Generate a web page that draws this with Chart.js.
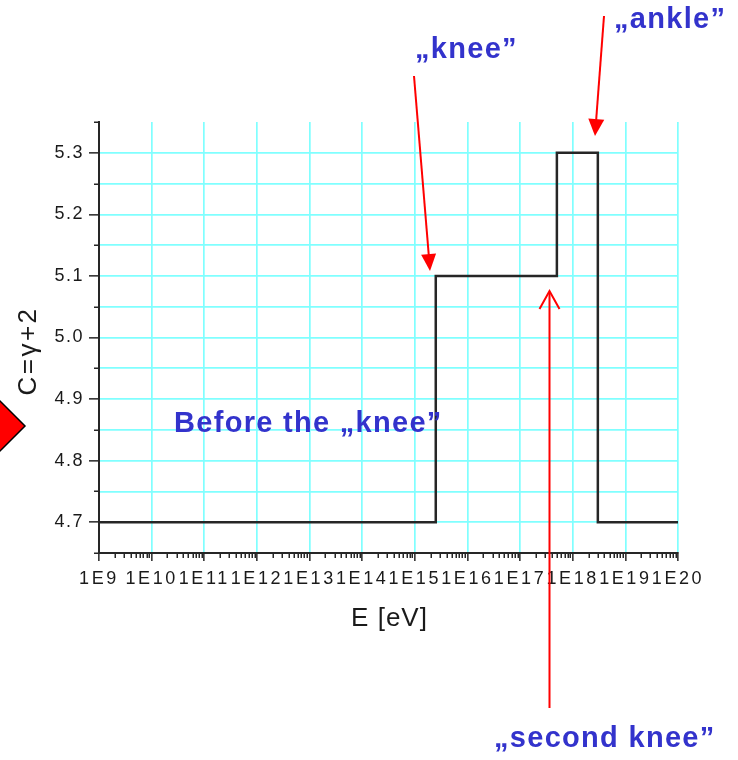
<!DOCTYPE html>
<html>
<head>
<meta charset="utf-8">
<title>C = γ + 2 versus energy</title>
<script src="https://cdn.jsdelivr.net/npm/chart.js@4.4.1/dist/chart.umd.min.js"></script>
<style>
  html, body { margin: 0; padding: 0; background: #ffffff; }
  #wrap { width: 738px; height: 760px; position: relative; }
</style>
</head>
<body>
<div id="wrap"><canvas id="chart" width="738" height="760"></canvas></div>
<script>
// Break points of the spectral index step function (energy in eV)
const energyEdges = [1e9, 2.5e15, 5e17, 3e18, 1e20];
// C = γ + 2 from each break point up to the next one
const cValues = [4.7, 5.1, 5.3, 4.7, 4.7];

// Decades shown on the energy axis and their labels
const decadeExponents = [9, 10, 11, 12, 13, 14, 15, 16, 17, 18, 19, 20];
const decadeLabels = ['1E9', '1E10', '1E11', '1E12', '1E13', '1E14', '1E15', '1E16', '1E17', '1E18', '1E19', '1E20'];

// Labelled values on the C axis
const cTicks = [4.7, 4.8, 4.9, 5.0, 5.1, 5.2, 5.3];
const cTickLabels = ['4.7', '4.8', '4.9', '5.0', '5.1', '5.2', '5.3'];

// Annotation texts
const annotations = {
  knee: '„knee”',
  ankle: '„ankle”',
  before: 'Before the „knee”',
  secondKnee: '„second knee”'
};

const AXIS_COLOR = '#262626';
const GRID_COLOR = '#80ffff';
const NOTE_COLOR = '#3333cc';
const ARROW_COLOR = '#ff0000';
const FONT = '"Liberation Sans", Arial, Helvetica, sans-serif';

// x ticks: every decade (major) plus 2..9 × 10^n (minor)
function buildEnergyTicks() {
  const t = [];
  decadeExponents.forEach((n, i) => {
    t.push({ value: Math.pow(10, n), major: true, label: decadeLabels[i] });
    if (i < decadeExponents.length - 1) {
      for (let k = 2; k <= 9; k++) t.push({ value: k * Math.pow(10, n), major: false });
    }
  });
  return t;
}

// y ticks: labelled values plus half steps in between and at both ends
function buildCTicks() {
  const t = [];
  const half = (cTicks[1] - cTicks[0]) / 2;
  t.push({ value: cTicks[0] - half, major: false });
  cTicks.forEach((v, i) => {
    t.push({ value: v, major: true, label: cTickLabels[i] });
    t.push({ value: v + half, major: false });
  });
  return t;
}

// draw a scale's tick labels with a given letter spacing
function spaceLabels(scale, spacing) {
  if (scale._spacedLabels) return;
  const orig = scale.drawLabels.bind(scale);
  scale.drawLabels = function (area) {
    const ctx = this.ctx;
    ctx.save();
    ctx.letterSpacing = spacing;
    orig(area);
    ctx.restore();
  };
  scale._spacedLabels = true;
}

function drawArrowHead(ctx, x0, y0, x1, y1, len, halfW, filled) {
  const a = Math.atan2(y1 - y0, x1 - x0);
  const bx = x1 - len * Math.cos(a), by = y1 - len * Math.sin(a);
  const px = -Math.sin(a) * halfW, py = Math.cos(a) * halfW;
  ctx.beginPath();
  ctx.moveTo(bx + px, by + py);
  ctx.lineTo(x1, y1);
  ctx.lineTo(bx - px, by - py);
  if (filled) { ctx.closePath(); ctx.fill(); } else { ctx.stroke(); }
}

const decorations = {
  id: 'decorations',
  afterDraw(chart) {
    const ctx = chart.ctx;
    const xs = chart.scales.x, ys = chart.scales.y;
    const area = chart.chartArea;
    ctx.save();

    // minor tick marks
    ctx.strokeStyle = AXIS_COLOR;
    ctx.lineWidth = 1.5;
    ctx.beginPath();
    xs.ticks.forEach(t => {
      if (t.major) return;
      const px = Math.round(xs.getPixelForValue(t.value)) + 0.25;
      ctx.moveTo(px, area.bottom);
      ctx.lineTo(px, area.bottom + 5);
    });
    ys.ticks.forEach(t => {
      if (t.major) return;
      const py = Math.round(ys.getPixelForValue(t.value)) + 0.25;
      ctx.moveTo(area.left, py);
      ctx.lineTo(area.left - 5, py);
    });
    ctx.stroke();

    // axis titles
    ctx.fillStyle = '#1a1a1a';
    ctx.letterSpacing = '1px';
    ctx.font = '26px ' + FONT;
    ctx.textAlign = 'center';
    ctx.textBaseline = 'alphabetic';
    ctx.fillText('E [eV]', (area.left + area.right) / 2 + 1, 626);
    ctx.save();
    ctx.translate(36, 351);
    ctx.rotate(-Math.PI / 2);
    ctx.letterSpacing = '2.5px';
    ctx.font = '26px ' + FONT;
    ctx.fillText('C=γ+2', 0, 0);
    ctx.restore();

    // red marker at the left edge
    ctx.beginPath();
    ctx.moveTo(-25, 426);
    ctx.lineTo(0, 401);
    ctx.lineTo(25, 426);
    ctx.lineTo(0, 451);
    ctx.closePath();
    ctx.fillStyle = ARROW_COLOR;
    ctx.fill();
    ctx.strokeStyle = '#000';
    ctx.lineWidth = 1.5;
    ctx.stroke();

    // arrows
    ctx.strokeStyle = ARROW_COLOR;
    ctx.fillStyle = ARROW_COLOR;
    ctx.lineWidth = 2;
    // knee
    ctx.beginPath(); ctx.moveTo(414, 76); ctx.lineTo(429, 258); ctx.stroke();
    drawArrowHead(ctx, 414, 76, 430, 271, 17, 7.5, true);
    // ankle
    ctx.beginPath(); ctx.moveTo(604, 16); ctx.lineTo(596, 122); ctx.stroke();
    drawArrowHead(ctx, 604, 16, 595, 136, 17, 8, true);
    // second knee
    ctx.beginPath(); ctx.moveTo(549.5, 708); ctx.lineTo(549.5, 292); ctx.stroke();
    drawArrowHead(ctx, 549.5, 708, 549.5, 291, 18, 10, false);

    // annotation texts
    ctx.fillStyle = NOTE_COLOR;
    ctx.font = 'bold 29px ' + FONT;
    ctx.letterSpacing = '1.3px';
    ctx.textAlign = 'left';
    ctx.textBaseline = 'alphabetic';
    ctx.fillText(annotations.knee, 415, 58);
    ctx.fillText(annotations.ankle, 614, 28);
    ctx.fillText(annotations.before, 174, 432);
    ctx.fillText(annotations.secondKnee, 494, 747);

    ctx.restore();
  }
};

new Chart(document.getElementById('chart'), {
  type: 'line',
  data: {
    datasets: [{
      data: energyEdges.map((e, i) => ({ x: e, y: cValues[i] })),
      stepped: 'before',
      borderColor: '#262626',
      borderWidth: 2.5,
      pointRadius: 0,
      fill: false
    }]
  },
  options: {
    responsive: false,
    animation: false,
    events: [],
    layout: { padding: { top: 122, right: 60, left: 0, bottom: 0 } },
    plugins: { legend: { display: false }, tooltip: { enabled: false } },
    scales: {
      x: {
        type: 'logarithmic',
        position: 'bottom',
        min: 1e9,
        max: 1e20,
        afterBuildTicks: s => { s.ticks = buildEnergyTicks(); },
        afterFit: s => { s.height = 207; spaceLabels(s, '2.6px'); },
        border: { display: true, color: AXIS_COLOR, width: 2 },
        grid: {
          drawOnChartArea: true,
          color: c => (c.tick && c.tick.major && c.index > 0) ? GRID_COLOR : 'rgba(0,0,0,0)',
          lineWidth: 1.7,
          tickColor: c => (c.tick && c.tick.major) ? AXIS_COLOR : 'rgba(0,0,0,0)',
          tickLength: 8,
          tickWidth: 1.5
        },
        ticks: {
          autoSkip: false,
          maxRotation: 0,
          minRotation: 0,
          padding: 7,
          color: '#1a1a1a',
          font: { family: FONT, size: 18 },
          callback: (v, i, ticks) => ticks[i].major ? ticks[i].label : ''
        }
      },
      y: {
        type: 'linear',
        min: 4.65,
        max: 5.35,
        afterBuildTicks: s => { s.ticks = buildCTicks(); },
        afterFit: s => { s.width = 99; spaceLabels(s, '1.5px'); },
        border: { display: true, color: AXIS_COLOR, width: 2 },
        grid: {
          drawOnChartArea: true,
          color: c => (c.tick && c.tick.value > 4.68 && c.tick.value < 5.32) ? GRID_COLOR : 'rgba(0,0,0,0)',
          lineWidth: 1.7,
          tickColor: c => (c.tick && c.tick.major) ? AXIS_COLOR : 'rgba(0,0,0,0)',
          tickLength: 10,
          tickWidth: 1.5
        },
        ticks: {
          autoSkip: false,
          padding: 5,
          color: '#1a1a1a',
          font: { family: FONT, size: 18 },
          callback: (v, i, ticks) => ticks[i].major ? ticks[i].label : ''
        }
      }
    }
  },
  plugins: [decorations]
});
</script>
</body>
</html>
